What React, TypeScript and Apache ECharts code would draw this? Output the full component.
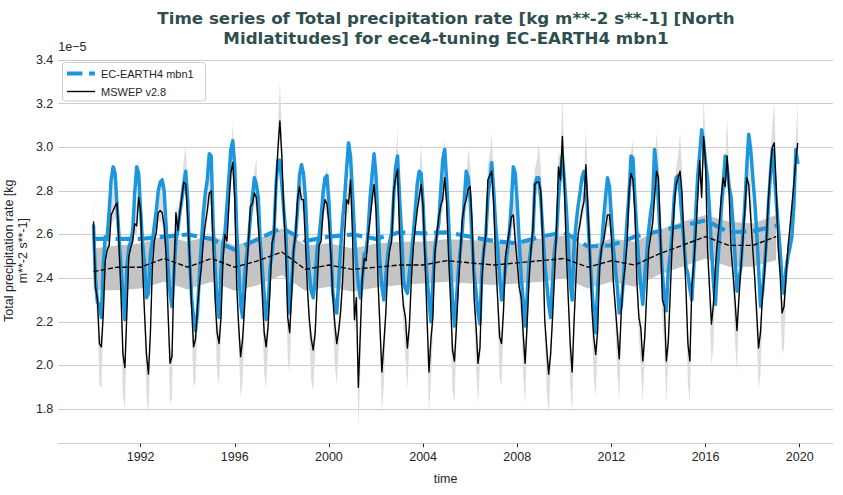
import React, { useEffect, useRef } from 'react';
import * as echarts from 'echarts';

const FONT = "'Liberation Sans', Arial, Helvetica, sans-serif";
const TITLE_FONT = "'DejaVu Sans', 'Liberation Sans', sans-serif";

// ---- axes ----
const START_YEAR = 1990;
const X_MIN = 1988.504;
const X_MAX = 2021.413;
const Y_MIN = 1.641;
const Y_MAX = 3.41;
const xTickYears = [1992, 1996, 2000, 2004, 2008, 2012, 2016, 2020];
const yTickValues = [1.8, 2.0, 2.2, 2.4, 2.6, 2.8, 3.0, 3.2, 3.4];

// ---- monthly series (units of 1e-5 kg m-2 s-1), Jan 1990 .. Dec 2019 ----
const mswepMonthly = [
  2.66, 2.36, 2.30, 2.10, 2.085, 2.24, 2.48, 2.53, 2.55, 2.69, 2.71, 2.73,
  2.745, 2.55, 2.33, 2.05, 1.99, 2.24, 2.50, 2.54, 2.57, 2.65, 2.64, 2.77,
  2.71, 2.45, 2.24, 2.05, 1.96, 2.15, 2.45, 2.57, 2.61, 2.70, 2.71, 2.70,
  2.64, 2.50, 2.24, 2.01, 2.04, 2.42, 2.70, 2.62, 2.70, 2.77, 2.84, 2.83,
  2.68, 2.50, 2.27, 2.085, 2.12, 2.27, 2.37, 2.45, 2.57, 2.65, 2.71, 2.79,
  2.80, 2.53, 2.30, 2.15, 2.10, 2.22, 2.48, 2.60, 2.57, 2.73, 2.88, 2.93,
  2.76, 2.36, 2.18, 2.04, 2.12, 2.27, 2.41, 2.57, 2.73, 2.74, 2.79, 2.77,
  2.64, 2.51, 2.33, 2.15, 2.085, 2.18, 2.36, 2.56, 2.60, 2.82, 2.99, 3.12,
  2.96, 2.71, 2.51, 2.22, 2.15, 2.33, 2.53, 2.60, 2.76, 2.82, 2.76, 2.76,
  2.57, 2.36, 2.21, 2.12, 2.07, 2.15, 2.36, 2.55, 2.57, 2.70, 2.76, 2.74,
  2.65, 2.50, 2.31, 2.19, 2.10, 2.16, 2.25, 2.39, 2.60, 2.76, 2.74, 2.85,
  2.61, 2.21, 2.31, 1.90, 2.15, 2.40, 2.49, 2.48, 2.60, 2.67, 2.76, 2.83,
  2.71, 2.39, 2.18, 1.97, 2.10, 2.24, 2.45, 2.53, 2.57, 2.80, 2.86, 2.90,
  2.60, 2.39, 2.27, 2.22, 2.08, 2.18, 2.39, 2.54, 2.63, 2.71, 2.77, 2.83,
  2.73, 2.48, 2.22, 1.97, 2.12, 2.22, 2.51, 2.60, 2.68, 2.73, 2.76, 2.86,
  2.75, 2.50, 2.30, 2.07, 2.02, 2.18, 2.36, 2.52, 2.67, 2.73, 2.76, 2.81,
  2.82, 2.65, 2.31, 2.18, 2.01, 2.08, 2.39, 2.53, 2.60, 2.85, 2.87, 2.89,
  2.74, 2.48, 2.31, 2.13, 2.10, 2.25, 2.50, 2.56, 2.62, 2.68, 2.69, 2.57,
  2.47, 2.36, 2.31, 2.15, 2.01, 2.18, 2.39, 2.53, 2.63, 2.83, 2.84, 2.84,
  2.80, 2.57, 2.21, 2.08, 1.96, 2.05, 2.22, 2.41, 2.63, 2.91, 2.85, 3.05,
  2.83, 2.52, 2.31, 2.10, 1.97, 2.21, 2.41, 2.60, 2.65, 2.71, 2.75, 2.92,
  2.72, 2.51, 2.27, 2.13, 2.05, 2.16, 2.45, 2.54, 2.57, 2.63, 2.69, 2.69,
  2.59, 2.38, 2.27, 2.15, 2.03, 2.24, 2.38, 2.45, 2.56, 2.80, 2.88, 2.85,
  2.70, 2.38, 2.22, 2.17, 2.02, 2.13, 2.33, 2.53, 2.59, 2.65, 2.77, 2.89,
  2.86, 2.60, 2.30, 2.27, 2.02, 2.11, 2.33, 2.56, 2.73, 2.83, 2.86, 2.89,
  2.79, 2.56, 2.35, 2.10, 2.02, 2.36, 2.47, 2.60, 2.77, 2.94, 2.77, 3.05,
  2.93, 2.53, 2.36, 2.19, 2.28, 2.45, 2.57, 2.65, 2.77, 2.86, 2.82, 2.96,
  2.79, 2.53, 2.42, 2.30, 2.16, 2.31, 2.45, 2.57, 2.71, 2.86, 2.83, 2.68,
  2.54, 2.41, 2.25, 2.08, 2.15, 2.32, 2.42, 2.57, 2.76, 2.89, 3.00, 3.02,
  2.82, 2.54, 2.42, 2.24, 2.27, 2.41, 2.54, 2.63, 2.73, 2.83, 2.94, 3.02,
];

const ecearthMonthly = [
  2.64, 2.40, 2.29, 2.28, 2.22, 2.47, 2.59, 2.59, 2.71, 2.85, 2.91, 2.88,
  2.73, 2.59, 2.45, 2.33, 2.21, 2.45, 2.54, 2.57, 2.62, 2.79, 2.91, 2.88,
  2.71, 2.56, 2.47, 2.31, 2.33, 2.51, 2.57, 2.64, 2.71, 2.80, 2.84, 2.85,
  2.80, 2.64, 2.45, 2.33, 2.27, 2.42, 2.57, 2.62, 2.70, 2.76, 2.83, 2.89,
  2.76, 2.48, 2.31, 2.22, 2.16, 2.24, 2.42, 2.56, 2.70, 2.79, 2.85, 2.97,
  2.96, 2.64, 2.45, 2.29, 2.22, 2.44, 2.56, 2.61, 2.73, 2.86, 2.99, 3.03,
  2.91, 2.62, 2.45, 2.28, 2.22, 2.41, 2.50, 2.57, 2.68, 2.77, 2.86, 2.83,
  2.77, 2.56, 2.45, 2.33, 2.21, 2.27, 2.45, 2.51, 2.61, 2.82, 2.94, 2.94,
  2.83, 2.71, 2.61, 2.39, 2.24, 2.38, 2.53, 2.60, 2.71, 2.87, 2.92, 2.88,
  2.77, 2.56, 2.42, 2.34, 2.31, 2.39, 2.54, 2.59, 2.68, 2.79, 2.86, 2.87,
  2.75, 2.55, 2.33, 2.28, 2.24, 2.39, 2.54, 2.67, 2.77, 2.90, 3.02, 2.96,
  2.79, 2.61, 2.47, 2.37, 2.31, 2.39, 2.51, 2.52, 2.62, 2.77, 2.87, 2.97,
  2.87, 2.65, 2.47, 2.36, 2.30, 2.41, 2.51, 2.57, 2.61, 2.77, 2.91, 2.96,
  2.77, 2.61, 2.39, 2.35, 2.33, 2.42, 2.50, 2.60, 2.71, 2.83, 2.89, 2.88,
  2.74, 2.53, 2.41, 2.30, 2.20, 2.38, 2.54, 2.60, 2.65, 2.80, 2.94, 2.99,
  2.85, 2.66, 2.47, 2.30, 2.18, 2.30, 2.44, 2.53, 2.62, 2.76, 2.89, 2.86,
  2.76, 2.57, 2.42, 2.34, 2.24, 2.19, 2.45, 2.53, 2.60, 2.76, 2.85, 2.93,
  2.80, 2.64, 2.54, 2.41, 2.30, 2.36, 2.45, 2.53, 2.61, 2.74, 2.91, 2.88,
  2.74, 2.57, 2.41, 2.30, 2.18, 2.31, 2.47, 2.54, 2.60, 2.83, 2.86, 2.86,
  2.76, 2.62, 2.47, 2.38, 2.28, 2.22, 2.39, 2.53, 2.59, 2.76, 2.88, 2.96,
  2.85, 2.72, 2.55, 2.38, 2.30, 2.55, 2.65, 2.73, 2.79, 2.86, 2.89, 2.83,
  2.68, 2.51, 2.36, 2.24, 2.15, 2.36, 2.48, 2.54, 2.67, 2.77, 2.86, 2.82,
  2.68, 2.54, 2.45, 2.36, 2.24, 2.27, 2.38, 2.53, 2.67, 2.79, 2.96, 2.95,
  2.76, 2.61, 2.47, 2.36, 2.28, 2.41, 2.51, 2.62, 2.70, 2.76, 2.99, 2.90,
  2.74, 2.56, 2.42, 2.31, 2.25, 2.44, 2.51, 2.61, 2.77, 2.86, 2.87, 2.79,
  2.67, 2.56, 2.45, 2.42, 2.35, 2.30, 2.45, 2.70, 2.87, 2.97, 3.08, 3.02,
  2.93, 2.86, 2.71, 2.53, 2.38, 2.28, 2.44, 2.57, 2.71, 2.83, 2.96, 2.91,
  2.82, 2.77, 2.65, 2.50, 2.34, 2.39, 2.45, 2.61, 2.73, 2.91, 3.06, 2.99,
  2.87, 2.76, 2.62, 2.45, 2.27, 2.33, 2.45, 2.57, 2.73, 2.87, 2.99, 2.88,
  2.76, 2.64, 2.53, 2.39, 2.33, 2.44, 2.50, 2.54, 2.59, 2.73, 2.99, 2.93,
];

// ---- annual means (plotted at the start of each year), 1990 .. 2019 ----
const mswepAnnual = [
  2.43, 2.45, 2.45, 2.49, 2.45, 2.49, 2.45, 2.48, 2.52, 2.44,
  2.46, 2.44, 2.45, 2.46, 2.46, 2.48, 2.47, 2.46, 2.47, 2.48,
  2.49, 2.45, 2.48, 2.46, 2.51, 2.55, 2.59, 2.55, 2.55, 2.59,
];
const ecearthAnnual = [
  2.58, 2.58, 2.58, 2.59, 2.60, 2.58, 2.53, 2.58, 2.63, 2.57,
  2.59, 2.60, 2.58, 2.61, 2.605, 2.61, 2.59, 2.57, 2.56, 2.59,
  2.61, 2.545, 2.55, 2.59, 2.615, 2.64, 2.665, 2.61, 2.615, 2.64,
];
// shaded range around the MSWEP annual mean
const mswepAnnualHigh = [
  2.536, 2.55, 2.559, 2.593, 2.567, 2.597, 2.55, 2.582, 2.628, 2.55,
  2.56, 2.536, 2.559, 2.567, 2.567, 2.578, 2.575, 2.567, 2.567, 2.582,
  2.595, 2.544, 2.582, 2.567, 2.62, 2.658, 2.689, 2.658, 2.65, 2.689,
];
const mswepAnnualLow = [
  2.345, 2.345, 2.353, 2.383, 2.348, 2.383, 2.342, 2.368, 2.414, 2.342,
  2.36, 2.337, 2.357, 2.368, 2.375, 2.383, 2.375, 2.368, 2.375, 2.383,
  2.40, 2.353, 2.383, 2.36, 2.414, 2.452, 2.49, 2.452, 2.452, 2.483,
];
// light shaded spread around the MSWEP monthly values, per calendar month (Jan..Dec)
const mswepSpreadAbove = [0.11, 0.05, 0.045, 0.045, 0.045, 0.05, 0.05, 0.05, 0.06, 0.07, 0.10, 0.18];
const mswepSpreadBelow = [0.06, 0.06, 0.09, 0.19, 0.19, 0.08, 0.05, 0.045, 0.045, 0.045, 0.05, 0.06];

// ---- styles ----
const BLUE = '#1c97dd';
const BLACK = '#000000';
const LIGHT_BAND = '#dddddd';
const DARK_BAND = '#c4c4c4';
const GRID = '#cccccc';
const TEXT = '#262626';
const TITLE = '#2f4f4f';

const monthX = (i: number) => START_YEAR + i / 12;
const yearX = (k: number) => START_YEAR + k;

function bandSeries(upper: number[][], lower: number[][], color: string, z: number) {
  return {
    type: 'custom',
    coordinateSystem: 'cartesian2d',
    silent: true,
    z,
    clip: true,
    data: [[2000, 2.5]],
    renderItem: (_params: any, api: any) => {
      const pts = upper.map((p) => api.coord(p));
      const low = lower.map((p) => api.coord(p)).reverse();
      return {
        type: 'polygon',
        shape: { points: pts.concat(low) },
        style: { fill: color, stroke: 'none' },
        silent: true,
      };
    },
  };
}

export default function App() {
  const ref = useRef<HTMLDivElement>(null);

  useEffect(() => {
    document.body.style.margin = '0';
    if (!ref.current) return;
    const chart = echarts.init(ref.current, null, { renderer: 'svg', width: 843, height: 495 });

    const mswepPts = mswepMonthly.map((v, i) => [monthX(i), v]);
    const ecPts = ecearthMonthly.map((v, i) => [monthX(i), v]);
    const mswepUp = mswepMonthly.map((v, i) => [monthX(i), v + mswepSpreadAbove[i % 12]]);
    const mswepDn = mswepMonthly.map((v, i) => [monthX(i), v - mswepSpreadBelow[i % 12]]);
    const annUp = mswepAnnualHigh.map((v, k) => [yearX(k), v]);
    const annDn = mswepAnnualLow.map((v, k) => [yearX(k), v]);
    const mswepAnnPts = mswepAnnual.map((v, k) => [yearX(k), v]);
    const ecAnnPts = ecearthAnnual.map((v, k) => [yearX(k), v]);

    const option: any = {
      animation: false,
      backgroundColor: '#ffffff',
      textStyle: { fontFamily: FONT },
      grid: { left: 58.3, right: 10, top: 57.8, bottom: 51.3, containLabel: false, outerBoundsMode: 'none' },
      xAxis: {
        type: 'value',
        min: X_MIN,
        max: X_MAX,
        axisLine: { show: true, onZero: false, lineStyle: { color: GRID, width: 1 } },
        axisTick: { show: true, length: 3.5, customValues: xTickYears, lineStyle: { color: TEXT, width: 1 } },
        axisLabel: {
          customValues: xTickYears,
          formatter: (v: number) => String(Math.round(v)),
          color: TEXT,
          fontSize: 12.5,
          fontFamily: FONT,
          margin: 7,
        },
        splitLine: { show: false },
        name: 'time',
        nameLocation: 'middle',
        nameGap: 35.3,
        nameTextStyle: { color: TEXT, fontSize: 12.5, fontFamily: FONT, verticalAlign: 'middle' },
      },
      yAxis: {
        type: 'value',
        min: Y_MIN,
        max: Y_MAX,
        axisLine: { show: false },
        axisTick: { show: false, customValues: yTickValues },
        axisLabel: {
          customValues: yTickValues,
          formatter: (v: number) => v.toFixed(1),
          color: TEXT,
          fontSize: 12.5,
          fontFamily: FONT,
          margin: 5,
        },
        splitLine: { show: true, lineStyle: { color: GRID, width: 1 } },
      },
      series: [
        bandSeries(mswepUp, mswepDn, LIGHT_BAND, 1),
        bandSeries(annUp, annDn, DARK_BAND, 2),
        {
          type: 'line', name: 'EC-EARTH4 mbn1', data: ecPts, z: 3, silent: true,
          showSymbol: false, symbol: 'none',
          lineStyle: { color: BLUE, width: 3.5, join: 'round', cap: 'round' },
          emphasis: { disabled: true },
        },
        {
          type: 'line', name: 'EC-EARTH4 mbn1 annual', data: ecAnnPts, z: 4, silent: true,
          showSymbol: false, symbol: 'none',
          lineStyle: { color: BLUE, width: 4.17, type: [15.4, 6.7], cap: 'butt' },
          emphasis: { disabled: true },
        },
        {
          type: 'line', name: 'MSWEP v2.8', data: mswepPts, z: 5, silent: true,
          showSymbol: false, symbol: 'none',
          lineStyle: { color: BLACK, width: 1.39, join: 'round' },
          emphasis: { disabled: true },
        },
        {
          type: 'line', name: 'MSWEP v2.8 annual', data: mswepAnnPts, z: 6, silent: true,
          showSymbol: false, symbol: 'none',
          lineStyle: { color: BLACK, width: 1.39, type: [5.1, 2.2] },
          emphasis: { disabled: true },
        },
      ],
      graphic: [
        {
          type: 'text', x: 446, y: 18, z: 100, silent: true,
          style: {
            text: 'Time series of Total precipitation rate [kg m**-2 s**-1] [North',
            fill: TITLE, font: `bold 16.7px ${TITLE_FONT}`, textAlign: 'center', textVerticalAlign: 'middle',
          },
        },
        {
          type: 'text', x: 446, y: 38, z: 100, silent: true,
          style: {
            text: 'Midlatitudes] for ece4-tuning EC-EARTH4 mbn1',
            fill: TITLE, font: `bold 16.7px ${TITLE_FONT}`, textAlign: 'center', textVerticalAlign: 'middle',
          },
        },
        {
          type: 'text', x: 58.3, y: 47, z: 100, silent: true,
          style: { text: '1e\u22125', fill: TEXT, font: `12.5px ${FONT}`, textAlign: 'left', textVerticalAlign: 'middle' },
        },
        {
          type: 'text', x: 9, y: 250.7, rotation: Math.PI / 2, z: 100, silent: true,
          style: { text: 'Total precipitation rate [kg', fill: TEXT, font: `12.5px ${FONT}`, textAlign: 'center', textVerticalAlign: 'middle' },
        },
        {
          type: 'text', x: 23, y: 250.7, rotation: Math.PI / 2, z: 100, silent: true,
          style: { text: 'm**-2 s**-1]', fill: TEXT, font: `12.5px ${FONT}`, textAlign: 'center', textVerticalAlign: 'middle' },
        },
        {
          type: 'rect', z: 100, silent: true,
          shape: { x: 62.5, y: 62.5, width: 143, height: 38.5, r: 3 },
          style: { fill: 'rgba(255,255,255,0.8)', stroke: GRID, lineWidth: 1 },
        },
        {
          type: 'line', z: 101, silent: true,
          shape: { x1: 67, y1: 73.5, x2: 95, y2: 73.5 },
          style: { stroke: BLUE, lineWidth: 4.17, lineDash: [15.4, 6.7] },
        },
        {
          type: 'text', x: 101, y: 73.5, z: 101, silent: true,
          style: { text: 'EC-EARTH4 mbn1', fill: TEXT, font: `11px ${FONT}`, textAlign: 'left', textVerticalAlign: 'middle' },
        },
        {
          type: 'line', z: 101, silent: true,
          shape: { x1: 67, y1: 91.5, x2: 95, y2: 91.5 },
          style: { stroke: BLACK, lineWidth: 1.39 },
        },
        {
          type: 'text', x: 101, y: 91.5, z: 101, silent: true,
          style: { text: 'MSWEP v2.8', fill: TEXT, font: `11px ${FONT}`, textAlign: 'left', textVerticalAlign: 'middle' },
        },
      ],
    };

    chart.setOption(option);
    return () => chart.dispose();
  }, []);

  return <div ref={ref} style={{ position: 'absolute', left: 0, top: 0, width: 843, height: 495 }} />;
}
